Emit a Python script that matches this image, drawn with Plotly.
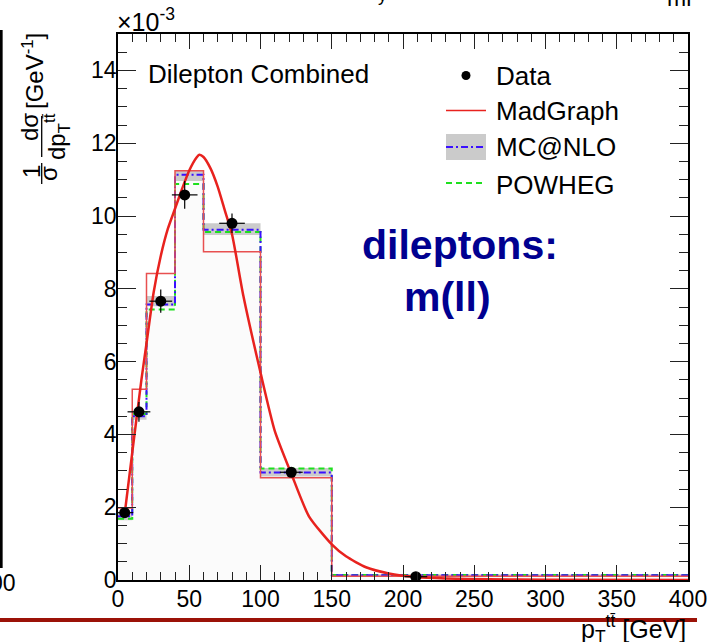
import plotly.graph_objects as go

# Normalized differential cross section, in units of 1e-3 GeV^-1
bin_edges = [0, 10, 20, 40, 60, 100, 150, 400]
madgraph = [1.98, 5.24, 8.42, 11.24, 9.02, 2.81, 0.10]
mcatnlo = [1.75, 4.50, 7.57, 11.13, 9.62, 2.95, 0.13]
mcatnlo_lo = [1.64, 4.40, 7.52, 10.96, 9.48, 2.84, 0.10]
mcatnlo_hi = [1.88, 4.62, 7.80, 11.26, 9.80, 3.08, 0.16]
powheg = [1.68, 4.56, 7.43, 10.88, 9.56, 3.06, 0.14]

data_x = [4.7, 14.7, 30.0, 46.8, 80.0, 121.6, 209.0]
data_y = [1.85, 4.62, 7.66, 10.58, 9.80, 2.96, 0.09]
data_ex = [6, 8, 8, 9, 9, 8, 8]
data_ey = [0.12, 0.27, 0.32, 0.38, 0.27, 0.08, 0.03]

# MadGraph smooth prediction
curve_x = [4.7, 10, 16.4, 20, 25, 30, 35, 40, 45, 50, 55, 57, 60, 65, 70, 75, 80,
           88, 100, 110, 121.6, 134, 150, 160, 174, 190, 209, 230, 260, 300, 400]
curve_y = [1.82, 3.5, 5.49, 6.5, 7.9, 8.9, 9.65, 10.2, 10.75, 11.25, 11.6, 11.68, 11.62,
           11.3, 10.8, 10.15, 9.5, 7.8, 5.7, 4.1, 2.92, 1.75, 0.98, 0.65, 0.35, 0.18,
           0.08, 0.04, 0.02, 0.01, 0.0]

x_ticks = [0, 50, 100, 150, 200, 250, 300, 350, 400]
y_ticks = [0, 2, 4, 6, 8, 10, 12, 14]

FONT = "Liberation Sans, Arial, Helvetica, sans-serif"
RED = "#e8221e"
RED_H = "#e85050"
BLUE = "#3a10ff"
GREEN = "#1ee01e"
BAND = "#cbcbcb"

# plot-area pixel frame, used to place decorations in paper coordinates
X0, X1, Y0, Y1 = 118, 688, 580, 34


def px(x):
    return (x - X0) / (X1 - X0)


def py(y):
    return (Y0 - y) / (Y0 - Y1)


def step(vals):
    return bin_edges, list(vals) + [vals[-1]]


fig = go.Figure()

# faint fill under the predictions
sx, sy = step(mcatnlo_hi)
fig.add_trace(go.Scatter(x=sx, y=sy, mode="lines", line=dict(width=0, shape="hv"),
                         fill="tozeroy", fillcolor="#fbfbfb", hoverinfo="skip"))
# MC@NLO uncertainty band
sx, sy = step(mcatnlo_lo)
fig.add_trace(go.Scatter(x=sx, y=sy, mode="lines", line=dict(width=0, shape="hv"),
                         hoverinfo="skip"))
sx, sy = step(mcatnlo_hi)
fig.add_trace(go.Scatter(x=sx, y=sy, mode="lines", line=dict(width=0, shape="hv"),
                         fill="tonexty", fillcolor=BAND, hoverinfo="skip"))

# POWHEG
sx, sy = step(powheg)
fig.add_trace(go.Scatter(x=sx, y=sy, mode="lines", name="POWHEG",
                         line=dict(color=GREEN, width=2, dash="6px,4px", shape="hv")))
# MC@NLO
sx, sy = step(mcatnlo)
fig.add_trace(go.Scatter(x=sx, y=sy, mode="lines", name="MC@NLO",
                         line=dict(color=BLUE, width=2, dash="7px,3px,2px,3px", shape="hv")))
# MadGraph histogram
sx, sy = step(madgraph)
fig.add_trace(go.Scatter(x=sx, y=sy, mode="lines", name="MadGraph",
                         line=dict(color=RED_H, width=1.5, shape="hv")))
# MadGraph curve
fig.add_trace(go.Scatter(x=curve_x, y=curve_y, mode="lines", name="MadGraph curve",
                         line=dict(color=RED, width=2.5, shape="spline", smoothing=0.6)))
# Data
fig.add_trace(go.Scatter(
    x=data_x, y=data_y, mode="markers", name="Data",
    marker=dict(color="black", size=11),
    error_x=dict(type="data", array=data_ex, color="black", thickness=1.2, width=0),
    error_y=dict(type="data", array=data_ey, color="black", thickness=1.2, width=0),
))

axis_common = dict(
    showgrid=False, zeroline=False, showline=True, linecolor="black", linewidth=1.5,
    mirror="ticks", ticks="inside", tickcolor="#222", tickwidth=1.3,
    tickfont=dict(family=FONT, size=23, color="black"),
)
fig.update_xaxes(range=[0, 400], tickvals=x_ticks, ticklen=15, ticklabelstandoff=-2,
                 minor=dict(dtick=10, tick0=0, ticklen=8, tickwidth=1.2, ticks="inside",
                            tickcolor="#222"),
                 **axis_common)
fig.update_yaxes(range=[0, 15], tickvals=y_ticks, ticklen=18, ticklabelstandoff=-5,
                 minor=dict(dtick=0.5, tick0=0, ticklen=9, tickwidth=1.2, ticks="inside",
                            tickcolor="#222"),
                 **axis_common)

shapes = []
annotations = []


def text(s, x, y, size, xanchor="center", yanchor="middle", angle=0, color="black",
         family=FONT):
    annotations.append(dict(text=s, x=px(x), y=py(y), xref="paper", yref="paper",
                            xanchor=xanchor, yanchor=yanchor, showarrow=False,
                            textangle=angle, font=dict(family=family, size=size, color=color)))


def line(x0, y0, x1, y1, color, width, dash="solid"):
    shapes.append(dict(type="line", xref="paper", yref="paper", x0=px(x0), x1=px(x1),
                       y0=py(y0), y1=py(y1), line=dict(color=color, width=width, dash=dash)))


# header text
text("Dilepton Combined", 146, 74, 26, xanchor="left")
text("×10<sup>-3</sup>", 115, 38, 25, xanchor="left", yanchor="bottom")

# legend
shapes.append(dict(type="circle", xref="paper", yref="paper", x0=px(461.5), x1=px(470.5),
                   y0=py(80), y1=py(71), fillcolor="black", line=dict(width=0)))
text("Data", 494, 76, 26, xanchor="left")
line(446, 110.5, 486, 110.5, RED, 1.5)
text("MadGraph", 494, 111, 26, xanchor="left")
shapes.append(dict(type="rect", xref="paper", yref="paper", x0=px(446), x1=px(486),
                   y0=py(160), y1=py(134), fillcolor=BAND, line=dict(width=0)))
line(446, 147, 486, 147, BLUE, 2, "7px,3px,2px,3px")
text("MC@NLO", 494, 147, 26, xanchor="left")
line(446, 183, 484, 183, GREEN, 2, "6px,4px")
text("POWHEG", 494, 185, 26, xanchor="left")

# overlay label
text("<b>dileptons:</b>", 460, 245, 41, color="#000090")
text("<b>m(ll)</b>", 447, 297, 41, color="#000090")

# y-axis title (ROOT-style fractions, rotated)
text("[GeV<sup>-1</sup>]", 33, 71, 24, angle=-90)
text("dσ", 30, 127, 24, angle=-90)
text("dp<sub>T</sub><sup>tt̄</sup>", 57, 137, 24, angle=-90)
line(41.7, 116, 41.7, 157, "black", 1.3)
text("1", 31, 172, 24, angle=-90)
text("σ", 48, 174, 24, angle=-90)
line(41.7, 163, 41.7, 184, "black", 1.3)

# x-axis title
text("p<sub>T</sub><sup>tt̄</sup> [GeV]", 688, 629, 25, xanchor="right")

# neighbouring panel remnants and slide rule
line(1.3, 30, 1.3, 568, "black", 2.7)
text("00", 18, 583, 23, xanchor="right")
text("ml", 665, 13, 23, xanchor="left", yanchor="bottom")
text("y", 376, 7, 18, xanchor="left", yanchor="bottom")
line(0, 620, 697, 620, "#9b1208", 4)

fig.update_layout(
    width=718, height=642,
    margin=dict(l=X0, r=718 - X1, t=Y1, b=642 - Y0),
    paper_bgcolor="white", plot_bgcolor="white",
    showlegend=False,
    font=dict(family=FONT, color="black"),
    shapes=shapes, annotations=annotations,
)

fig.write_html("out.html")
